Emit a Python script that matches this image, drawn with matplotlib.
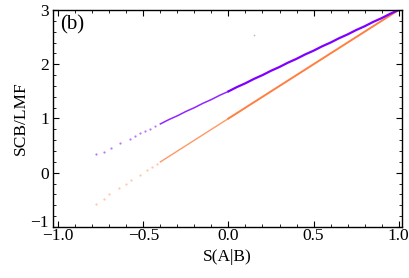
import matplotlib
matplotlib.use('Agg')
from matplotlib import pyplot as plt
from matplotlib.ticker import MultipleLocator
from matplotlib.transforms import ScaledTranslation

plt.rcParams['font.family'] = ['Liberation Serif', 'DejaVu Serif']

# sparse points at the low end
purple_sparse_x = [-0.78, -0.73, -0.69, -0.635, -0.58, -0.55, -0.52, -0.49, -0.46, -0.43]
purple_sparse_y = [0.34, 0.39, 0.46, 0.54, 0.63, 0.67, 0.73, 0.77, 0.81, 0.86]
orange_sparse_x = [-0.78, -0.73, -0.70, -0.645, -0.60, -0.57, -0.52, -0.48, -0.45, -0.42]
orange_sparse_y = [-0.57, -0.48, -0.40, -0.29, -0.21, -0.13, -0.05, 0.05, 0.10, 0.16]

# dense part (appears as a continuous band)
dense_x = [-0.40, -0.35, -0.30, -0.25, -0.20, -0.15, -0.10, -0.05, 0.00,
           0.05, 0.10, 0.15, 0.20, 0.25, 0.30, 0.35, 0.40, 0.45, 0.50,
           0.55, 0.60, 0.65, 0.70, 0.75, 0.80, 0.85, 0.90, 0.95, 1.00]
purple_y = [0.90, 0.98, 1.05, 1.13, 1.20, 1.28, 1.35, 1.43, 1.50,
            1.58, 1.65, 1.73, 1.80, 1.88, 1.95, 2.03, 2.10, 2.18, 2.25,
            2.33, 2.40, 2.48, 2.55, 2.63, 2.70, 2.78, 2.85, 2.93, 3.00]
orange_y = [0.20, 0.30, 0.40, 0.50, 0.60, 0.70, 0.80, 0.90, 1.00,
            1.10, 1.20, 1.30, 1.40, 1.50, 1.60, 1.70, 1.80, 1.90, 2.00,
            2.10, 2.20, 2.30, 2.40, 2.50, 2.60, 2.70, 2.80, 2.90, 3.00]

stray_x = [0.15]
stray_y = [2.54]

purple = '#8000ff'
orange = '#ff7f40'

fig = plt.figure(figsize=(4.09, 2.78), dpi=100)
ax = fig.add_axes([0.13, 0.1835, 0.853, 0.7805])

ax.scatter(purple_sparse_x, purple_sparse_y, s=2.5, color=purple, alpha=0.55, lw=0)
ax.scatter(orange_sparse_x, orange_sparse_y, s=2.5, color=orange, alpha=0.45, lw=0)
# thin, faint start of the band, then the full band
ax.plot(dense_x[:9], orange_y[:9], color=orange, lw=1.0, alpha=0.8)
ax.plot(dense_x[8:], orange_y[8:], color=orange, lw=1.4)
ax.plot(dense_x[:9], purple_y[:9], color=purple, lw=1.1, alpha=0.85)
ax.plot(dense_x[8:], purple_y[8:], color=purple, lw=1.6)
ax.scatter(stray_x, stray_y, s=1.5, color='#bbbbbb', lw=0)

ax.set_xlim(-1.03, 1.02)
ax.set_ylim(-1, 3)
ax.xaxis.set_minor_locator(MultipleLocator(0.1))
ax.yaxis.set_minor_locator(MultipleLocator(0.2))
ax.set_xticks([-1.0, -0.5, 0.0, 0.5, 1.0])
ax.set_xticklabels(['\u22121.0', '\u22120.5', '0.0', '0.5', '1.0'])
ax.set_yticks([-1, 0, 1, 2, 3])
ax.set_yticklabels(['\u22121', '0', '1', '2', '3'])
ax.tick_params(which='both', direction='in', top=True, right=True, labelsize=12.5)
ax.tick_params(axis='x', pad=1)
ax.tick_params(axis='y', pad=3)
ax.tick_params(which='major', length=4, width=0.8)
ax.tick_params(which='minor', length=2, width=0.6)
for sp in ax.spines.values():
    sp.set_linewidth(1.0)

# nudge the lowest y label up a little so it clears the first x label
lab = ax.get_yticklabels()[0]
lab.set_transform(lab.get_transform() + ScaledTranslation(0, 4 / 72, fig.dpi_scale_trans))

ax.set_xlabel('S(A|B)', fontsize=12.5, labelpad=3)
ax.set_ylabel('SCB/LMF', fontsize=12.5, labelpad=1)
ax.text(0.02, 0.975, '(b)', transform=ax.transAxes, fontsize=15, va='top', ha='left')

fig.savefig('out.png', dpi=100)
